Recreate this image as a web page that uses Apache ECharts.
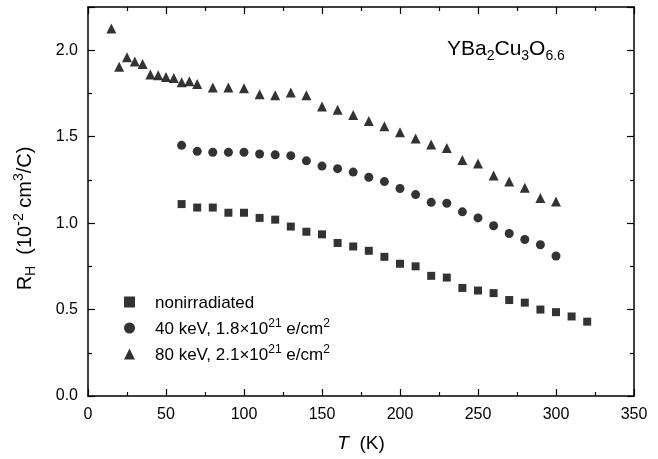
<!DOCTYPE html>
<html>
<head>
<meta charset="utf-8">
<script src="https://cdn.jsdelivr.net/npm/echarts@6/dist/echarts.min.js"></script>
<style>html,body{margin:0;padding:0;background:#fff}#c{width:658px;height:459px}</style>
</head>
<body>
<div id="c"></div>
<script>
const T_non = [60,70,80,90,100,110,120,130,140,150,160,170,180,190,200,210,220,230,240,250,260,270,280,290,300,310,320];
const R_non = [1.11,1.09,1.09,1.06,1.06,1.03,1.02,0.98,0.95,0.935,0.885,0.865,0.84,0.805,0.765,0.75,0.695,0.685,0.625,0.61,0.595,0.555,0.54,0.50,0.485,0.46,0.43];
const T_40 = [60,70,80,90,100,110,120,130,140,150,160,170,180,190,200,210,220,230,240,250,260,270,280,290,300];
const R_40 = [1.45,1.415,1.41,1.41,1.41,1.40,1.395,1.39,1.36,1.33,1.315,1.295,1.265,1.24,1.20,1.165,1.12,1.115,1.065,1.03,0.985,0.94,0.905,0.875,0.81];
const T_80 = [15,20,25,30,35,40,45,50,55,60,65,70,80,90,100,110,120,130,140,150,160,170,180,190,200,210,220,230,240,250,260,270,280,290,300];
const R_80 = [2.125,1.905,1.96,1.935,1.92,1.86,1.855,1.845,1.84,1.815,1.82,1.805,1.785,1.785,1.78,1.745,1.74,1.755,1.74,1.675,1.655,1.625,1.59,1.56,1.525,1.49,1.455,1.435,1.365,1.345,1.275,1.24,1.205,1.145,1.125];
const seriesNames = ['nonirradiated','40 keV','80 keV'];
const xTicks = {min:0, max:350, interval:50};
const yTicks = {min:0, max:2.25, interval:0.5};

const zip = (a,b) => a.map((v,i)=>[v,b[i]]);
const chart = echarts.init(document.getElementById('c'));
const font = 'Liberation Sans, Arial, sans-serif';
const axisCommon = {
  axisLine:{show:true,onZero:false,lineStyle:{color:'#000',width:1.5}},
  axisTick:{show:true,inside:true,length:7,lineStyle:{color:'#000',width:1.2}},
  minorTick:{show:true,splitNumber:2,length:4,lineStyle:{color:'#000',width:1.2}},
  splitLine:{show:false}
};
const legendText = {
  'nonirradiated':'{t|nonirradiated}',
  '40 keV':'{t|40 keV, 1.8×10}{s|21}{t| e/cm}{s|2}',
  '80 keV':'{t|80 keV, 2.1×10}{s|21}{t| e/cm}{s|2}'
};
chart.setOption({
  animation:false,
  backgroundColor:'#fff',
  grid:{left:88,right:24,top:7,bottom:63},
  title:{
    text:'{m|YBa}{b|2}{m|Cu}{b|3}{m|O}{b|6.6}',
    left:442, top:30,
    textStyle:{fontWeight:'normal',rich:{
      m:{fontFamily:font,fontSize:21,fontWeight:'normal',color:'#000',lineHeight:28,verticalAlign:'middle'},
      b:{fontFamily:font,fontSize:14,fontWeight:'normal',color:'#000',lineHeight:28,verticalAlign:'bottom'}
    }}
  },
  legend:{
    orient:'vertical', left:119, top:290, itemGap:6,
    itemWidth:11, itemHeight:11,
    data:[{name:'nonirradiated',icon:'rect'},{name:'40 keV',icon:'circle'},{name:'80 keV',icon:'triangle'}],
    formatter:n=>legendText[n],
    textStyle:{padding:[0,0,0,15],rich:{
      t:{fontFamily:font,fontSize:17,color:'#000',lineHeight:20,verticalAlign:'bottom'},
      s:{fontFamily:font,fontSize:12,color:'#000',lineHeight:20,verticalAlign:'top'}
    }}
  },
  xAxis:[
    Object.assign({type:'value',position:'bottom',min:xTicks.min,max:xTicks.max,interval:xTicks.interval,
      axisLabel:{color:'#000',fontFamily:font,fontSize:16,margin:11},
      name:'{i|T}{n|  (K)}',nameLocation:'middle',nameGap:38,
      nameTextStyle:{rich:{i:{fontFamily:font,fontSize:19,fontStyle:'italic',color:'#000'},n:{fontFamily:font,fontSize:19,color:'#000'}}}
    },axisCommon),
    Object.assign({type:'value',position:'top',min:xTicks.min,max:xTicks.max,interval:xTicks.interval,axisLabel:{show:false}},axisCommon)
  ],
  yAxis:[
    Object.assign({type:'value',position:'left',min:yTicks.min,max:yTicks.max,interval:yTicks.interval,
      axisLabel:{color:'#000',fontFamily:font,fontSize:16,margin:10,showMaxLabel:false,formatter:v=>v.toFixed(1)},
      name:'{r|R}{sb|H}{r|  (10}{sp|-2}{r| cm}{sp|3}{r|/C)}',nameLocation:'middle',nameGap:50,nameRotate:90,
      nameTextStyle:{padding:[0,34,0,0],rich:{
        r:{fontFamily:font,fontSize:20,color:'#000',lineHeight:26,verticalAlign:'middle'},
        sb:{fontFamily:font,fontSize:14,color:'#000',lineHeight:26,verticalAlign:'bottom'},
        sp:{fontFamily:font,fontSize:14,color:'#000',lineHeight:26,verticalAlign:'top'}
      }}
    },axisCommon),
    Object.assign({type:'value',position:'right',min:yTicks.min,max:yTicks.max,interval:yTicks.interval,axisLabel:{show:false}},axisCommon)
  ],
  series:[
    {name:seriesNames[0],type:'scatter',symbol:'rect',symbolSize:8,itemStyle:{color:'#000'},data:zip(T_non,R_non)},
    {name:seriesNames[1],type:'scatter',symbol:'circle',symbolSize:9,itemStyle:{color:'#000'},data:zip(T_40,R_40)},
    {name:seriesNames[2],type:'scatter',symbol:'triangle',symbolSize:10,itemStyle:{color:'#000'},data:zip(T_80,R_80)}
  ]
});
</script>
</body>
</html>
